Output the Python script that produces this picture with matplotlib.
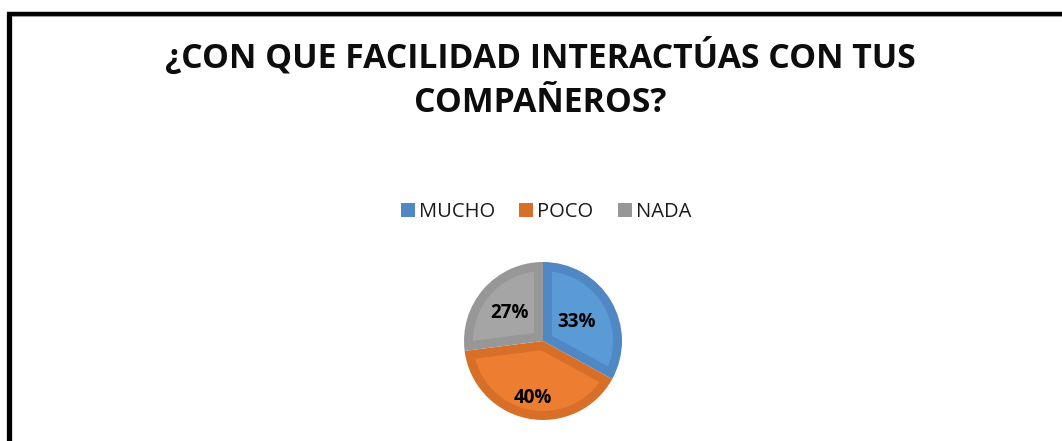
import matplotlib
matplotlib.use("Agg")
import matplotlib.pyplot as plt
from matplotlib.patches import Rectangle, Polygon
import numpy as np

categories = ["MUCHO", "POCO", "NADA"]
values = [33, 40, 27]
title = "¿CON QUE FACILIDAD INTERACTÚAS CON TUS\nCOMPAÑEROS?"

fill_colors = ["#5B9BD5", "#ED7D31", "#A5A5A5"]
edge_colors = ["#4F88C4", "#D86F29", "#979797"]
label_radii = [0.50, 0.72, 0.57]
FONT = "Open Sans"

W, H = 1062, 441
fig = plt.figure(figsize=(W / 100, H / 100), dpi=100)
fig.patch.set_facecolor("white")

# frame (left and top edges visible)
fig.add_artist(plt.Line2D([7 / W, 1.0], [1 - 13.5 / H, 1 - 13.5 / H], transform=fig.transFigure,
                          color="black", lw=3.2, solid_capstyle="butt"))
fig.add_artist(plt.Line2D([12 / W, 1.0], [1 - 15.8 / H, 1 - 15.8 / H], transform=fig.transFigure,
                          color="#9a9a9a", lw=0.8, solid_capstyle="butt"))
fig.add_artist(plt.Line2D([9.3 / W, 9.3 / W], [0, 1 - 12 / H], transform=fig.transFigure,
                          color="black", lw=3.8, solid_capstyle="butt"))

fig.text(540 / W, 1 - 79 / H, title, ha="center", va="center", fontsize=24.3,
         fontweight="bold", family=FONT, color="#0d0d0d", linespacing=1.37)

# pie
cx, cy, r = 543, 341, 79
ax = fig.add_axes([(cx - r) / W, 1 - (cy + r) / H, 2 * r / W, 2 * r / H])
wedges, _ = ax.pie(values, colors=edge_colors, startangle=90, counterclock=False,
                   radius=1.0, wedgeprops=dict(linewidth=0))
ax.set_xlim(-1, 1)
ax.set_ylim(-1, 1)
ax.set_aspect("equal")
ax.axis("off")

d = 9.0 / r  # bevel inset
R = 1.0 - d
for w, fc in zip(wedges, fill_colors):
    a1, a2 = sorted([np.deg2rad(w.theta1), np.deg2rad(w.theta2)])
    half = (a2 - a1) / 2
    mid = (a1 + a2) / 2
    P = (d / np.sin(half)) * np.array([np.cos(mid), np.sin(mid)])
    u1 = np.array([np.cos(a1), np.sin(a1)]); n1 = np.array([-np.sin(a1), np.cos(a1)])
    u2 = np.array([np.cos(a2), np.sin(a2)]); n2 = np.array([np.sin(a2), -np.cos(a2)])
    t = np.sqrt(R ** 2 - d ** 2)
    q1 = d * n1 + t * u1
    q2 = d * n2 + t * u2
    da = np.arcsin(d / R)
    arc = np.linspace(a1 + da, a2 - da, 80)
    pts = [P, q1] + [R * np.array([np.cos(a), np.sin(a)]) for a in arc] + [q2]
    ax.add_patch(Polygon(np.array(pts), closed=True, facecolor=fc, edgecolor="none"))

for w, v, rr in zip(wedges, values, label_radii):
    ang = np.deg2rad((w.theta1 + w.theta2) / 2)
    ax.text(rr * np.cos(ang), rr * np.sin(ang) - 0.02, f"{v}%", ha="center", va="center",
            fontsize=13.5, fontweight="bold", family=FONT, color="black")

# legend
handles = [Rectangle((0, 0), 1, 1, facecolor=c, edgecolor="none") for c in edge_colors]
fig.legend(handles, categories, loc="center", bbox_to_anchor=(546 / W, 1 - 212 / H),
           ncol=3, frameon=False, prop=dict(family=FONT, size=14.5),
           handlelength=0.7, handleheight=0.7, handletextpad=0.2, columnspacing=1.2,
           labelcolor="#1a1a1a")

fig.savefig("out.png", dpi=100, facecolor="white")
